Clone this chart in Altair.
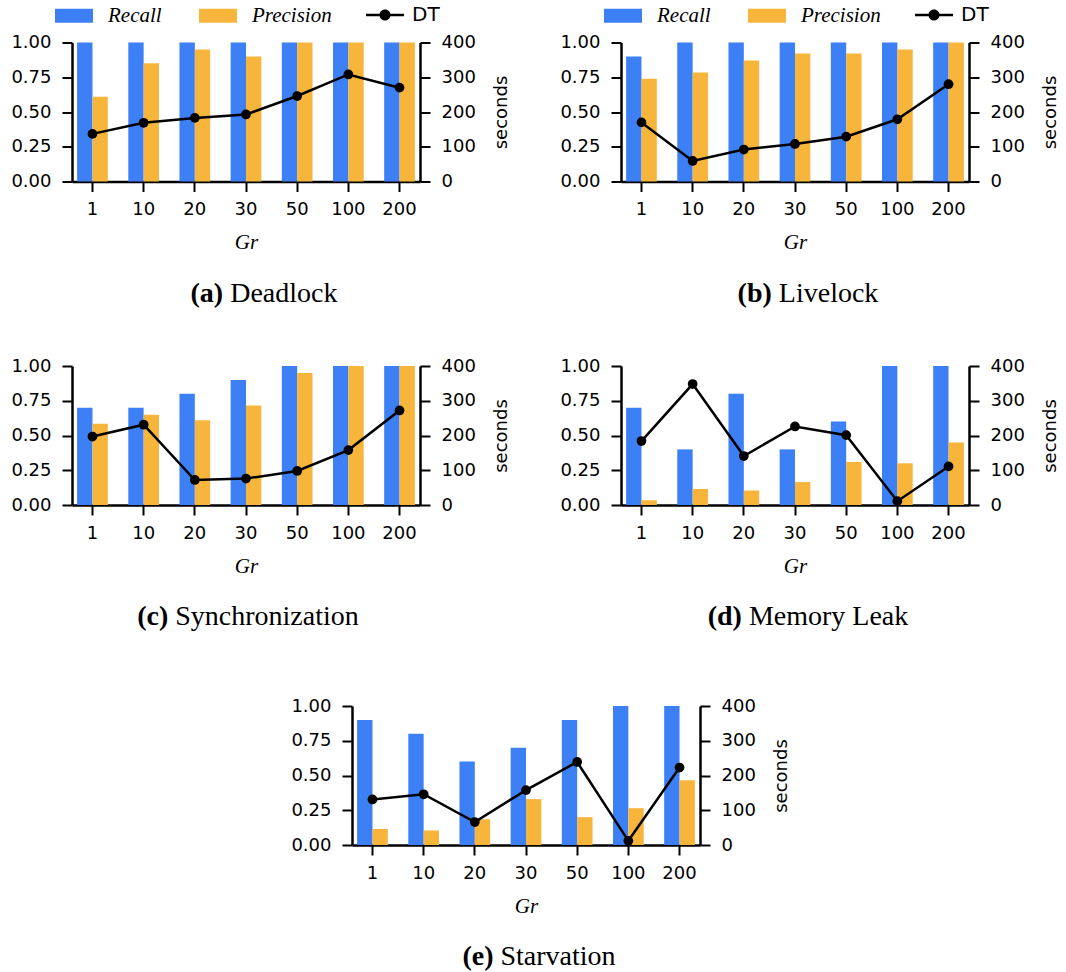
import altair as alt
import pandas as pd

# ---------------- data ----------------
gr_labels = ["1", "10", "20", "30", "50", "100", "200"]
metrics = ["Recall", "Precision"]

deadlock_recall = [1.0, 1.0, 1.0, 1.0, 1.0, 1.0, 1.0]
deadlock_precision = [0.61, 0.85, 0.95, 0.90, 1.0, 1.0, 1.0]
deadlock_dt = [137, 169, 183, 193, 246, 308, 270]

livelock_recall = [0.90, 1.0, 1.0, 1.0, 1.0, 1.0, 1.0]
livelock_precision = [0.74, 0.785, 0.87, 0.92, 0.92, 0.95, 1.0]
livelock_dt = [170, 59, 92, 108, 129, 179, 280]

sync_recall = [0.70, 0.70, 0.80, 0.90, 1.0, 1.0, 1.0]
sync_precision = [0.585, 0.65, 0.61, 0.715, 0.95, 1.0, 1.0]
sync_dt = [197, 231, 72, 76, 98, 158, 272]

memleak_recall = [0.70, 0.40, 0.80, 0.40, 0.60, 1.0, 1.0]
memleak_precision = [0.035, 0.115, 0.105, 0.165, 0.31, 0.30, 0.45]
memleak_dt = [184, 348, 141, 226, 201, 11, 111]

starv_recall = [0.90, 0.80, 0.60, 0.70, 0.90, 1.0, 1.0]
starv_precision = [0.115, 0.105, 0.185, 0.33, 0.20, 0.265, 0.465]
starv_dt = [131, 146, 66, 158, 239, 12, 223]

tags = ["(a)", "(b)", "(c)", "(d)", "(e)"]
names = ["Deadlock", "Livelock", "Synchronization", "Memory Leak", "Starvation"]

# ---------------- style ----------------
BLUE = "#3d7ff5"
ORANGE = "#f8b53b"
W, H = 348, 139
SANS = "DejaVu Sans"
SERIF = "Liberation Serif"
TICK_FS = 18
CAP_SIZE = 28
CAP_DX = [192, 187, 176, 187, 187]   # caption centre, relative to plot left
CAP_DY = 112                         # caption centre, below plot bottom

RECT_PATH = "M-2,-0.737H2V0.737H-2Z"
DT_PATH = ("M-2,-0.13H2V0.13H-2Z"
           "M0.58,0A0.58,0.58,0,1,1,-0.58,0A0.58,0.58,0,1,1,0.58,0Z")

# Times metrics (per 1000 em) for caption centring
REG = {" ": 250, "D": 722, "e": 444, "a": 444, "d": 500, "l": 278, "o": 500,
       "c": 444, "k": 500, "L": 611, "i": 278, "v": 500, "S": 556, "y": 500,
       "n": 500, "h": 500, "r": 333, "z": 444, "t": 278, "M": 889, "m": 778}
BOLD = {"(": 333, ")": 333, "a": 500, "b": 556, "c": 444, "d": 556, "e": 444}


def text_w(s, table):
    return sum(table.get(ch, 500) for ch in s) / 1000.0 * CAP_SIZE


def panel(i, rec, prec, dt, show_legend):
    tag, name = tags[i], names[i]
    bar_df = pd.DataFrame({
        "gr": gr_labels * 2,
        "metric": ["Recall"] * len(rec) + ["Precision"] * len(prec),
        "value": rec + prec,
    })
    dt_df = pd.DataFrame({"gr": gr_labels, "dt": dt, "series": ["DT"] * len(dt)})

    x_axis = alt.Axis(labelAngle=0, title="Gr", titleFont=SERIF, titleFontStyle="italic",
                      titleFontWeight="normal", titleFontSize=21, titlePadding=13,
                      labelPadding=9)
    x_scale = alt.Scale(paddingInner=0.4, paddingOuter=0.1)

    color_legend = None
    dt_legend = None
    if show_legend:
        color_legend = alt.Legend(
            orient="none", legendX=-8.5, legendY=-37.5, direction="horizontal",
            title=None, symbolType=RECT_PATH, symbolSize=361, symbolStrokeWidth=0,
            labelFont=SERIF, labelFontStyle="italic", labelFontSize=21,
            labelColor="black", labelOffset=23.5, columnPadding=36)
        dt_legend = alt.Legend(
            orient="none", legendX=303, legendY=-37.5, direction="horizontal",
            title=None, symbolType=DT_PATH, symbolSize=361, symbolStrokeWidth=0,
            labelFont=SANS, labelFontSize=20, labelColor="black", labelOffset=17)

    bars = alt.Chart(bar_df).mark_bar().encode(
        x=alt.X("gr:N", sort=gr_labels, scale=x_scale, axis=x_axis),
        xOffset=alt.XOffset("metric:N", sort=metrics),
        y=alt.Y("value:Q", scale=alt.Scale(domain=[0, 1], nice=False),
                axis=alt.Axis(orient="left", values=[0, 0.25, 0.5, 0.75, 1.0],
                              format=".2f", title=None, labelPadding=11)),
        color=alt.Color("metric:N", sort=metrics,
                        scale=alt.Scale(domain=metrics, range=[BLUE, ORANGE]),
                        legend=color_legend),
    )

    y_dt = alt.Y("dt:Q", scale=alt.Scale(domain=[0, 400], nice=False),
                 axis=alt.Axis(orient="right", values=[0, 100, 200, 300, 400],
                               labelPadding=11,
                               title="seconds", titleAngle=270,
                               titleFont=SANS, titleFontSize=TICK_FS,
                               titleFontWeight="normal", titlePadding=35))
    line = alt.Chart(dt_df).mark_line(color="black", strokeWidth=2.5).encode(
        x=alt.X("gr:N", sort=gr_labels, bandPosition=0.5),
        y=y_dt,
    )
    pts = alt.Chart(dt_df).mark_point(filled=True, size=95, opacity=1).encode(
        x=alt.X("gr:N", sort=gr_labels, bandPosition=0.5),
        y=y_dt,
        fill=alt.Fill("series:N", scale=alt.Scale(domain=["DT"], range=["black"]),
                      legend=dt_legend),
    )

    # caption: bold tag + regular name, centred as a whole
    wb = text_w(tag, BOLD)
    wn = text_w(" " + name, REG)
    x0 = CAP_DX[i] - (wb + wn) / 2.0
    cap_df = pd.DataFrame({"tag": [tag], "name": [name]})
    cap_tag = alt.Chart(cap_df).mark_text(
        font=SERIF, fontSize=CAP_SIZE, fontWeight="bold", align="left",
        baseline="middle", color="black").encode(
        text="tag:N", x=alt.value(x0), y=alt.value(H + CAP_DY))
    cap_name = alt.Chart(cap_df).mark_text(
        font=SERIF, fontSize=CAP_SIZE, fontWeight="normal", align="left",
        baseline="middle", color="black").encode(
        text="name:N", x=alt.value(x0 + wb + text_w(" ", REG)), y=alt.value(H + CAP_DY))

    dt_layer = alt.layer(line, pts)
    return (alt.layer(bars, dt_layer, cap_tag, cap_name)
            .resolve_scale(y="independent")
            .properties(width=W, height=H))


pa = panel(0, deadlock_recall, deadlock_precision, deadlock_dt, True)
pb = panel(1, livelock_recall, livelock_precision, livelock_dt, True)
pc = panel(2, sync_recall, sync_precision, sync_dt, False)
pd_ = panel(3, memleak_recall, memleak_precision, memleak_dt, False)
pe = panel(4, starv_recall, starv_precision, starv_dt, False)


def indep(c):
    return (c.resolve_scale(color="independent", fill="independent")
             .resolve_legend(color="independent", fill="independent"))


spacer = alt.Chart(pd.DataFrame({"s": [0]})).mark_point(opacity=0).properties(width=218, height=10)

row1 = indep(alt.hconcat(pa, pb, spacing=48))
row2 = indep(alt.hconcat(pc, pd_, spacing=48))
top = indep(alt.vconcat(row1, row2, spacing=49.5))
row3 = indep(alt.hconcat(spacer, pe, spacing=0))
chart = indep(alt.vconcat(top, row3, spacing=65.5))

chart = (chart
         .properties(padding={"left": 10, "top": 4.5, "right": 5, "bottom": 5})
         .configure_view(strokeWidth=0)
         .configure_axis(domainColor="black", domainWidth=2.5, tickColor="black",
                         tickWidth=2, tickSize=10, labelColor="black", titleColor="black",
                         labelFont=SANS, labelFontSize=TICK_FS, grid=False))

chart.save("out.html", embed_options={"renderer": "svg", "actions": False})
